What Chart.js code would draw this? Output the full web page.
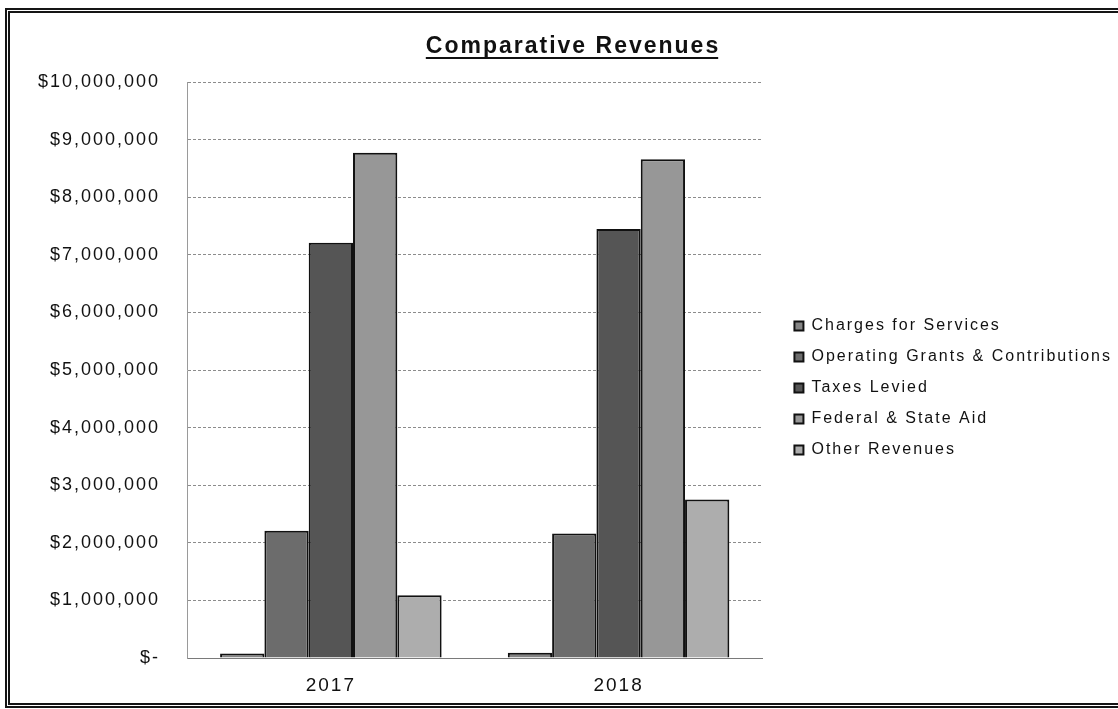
<!DOCTYPE html>
<html>
<head>
<meta charset="utf-8">
<script src="https://cdn.jsdelivr.net/npm/chart.js@4"></script>
<style>
  html, body { margin: 0; padding: 0; background: #fff; overflow: hidden; }
  body { width: 1118px; height: 709px; position: relative; }
  #frame {
    position: absolute; left: 5px; top: 8px; width: 1160px; height: 700px;
    box-sizing: border-box; border: 5px double #151515;
  }
  #chart { position: absolute; left: 12px; top: 12px; }
</style>
</head>
<body>
<div id="frame"></div>
<canvas id="chart" width="1120" height="690"></canvas>
<script>
// ---------------- data ----------------
const TITLE = "Comparative Revenues";

const YEARS = ["2017", "2018"];

const SERIES_NAMES = [
  "Charges for Services",
  "Operating Grants & Contributions",
  "Taxes Levied",
  "Federal & State Aid",
  "Other Revenues"
];

const CHARGES = [80000, 90000];
const OPERATING = [2210000, 2160000];
const TAXES = [7210000, 7450000];
const FEDERAL = [8770000, 8660000];
const OTHER = [1090000, 2750000];

const TICK_LABELS = [
  "$-", "$1,000,000", "$2,000,000", "$3,000,000", "$4,000,000", "$5,000,000",
  "$6,000,000", "$7,000,000", "$8,000,000", "$9,000,000", "$10,000,000"
];

// greys of the scanned print
const COLORS = ["#858585", "#6c6c6c", "#555555", "#979797", "#adadad"];

const FONT = "'Liberation Sans', Arial, sans-serif";
const SPACING = "2px";

// ---------------- plugins ----------------
// the print uses wide letter spacing, canvas state gets reset so set it each pass
const spacingPlugin = {
  id: "spacing",
  beforeUpdate(chart) { chart.ctx.letterSpacing = SPACING; },
  beforeLayout(chart) { chart.ctx.letterSpacing = SPACING; },
  beforeDraw(chart) { chart.ctx.letterSpacing = SPACING; }
};

// underlined title, centred over the whole (cut off) frame rather than the canvas
const titlePlugin = {
  id: "underlinedTitle",
  afterDraw(chart) {
    const ctx = chart.ctx;
    const cx = 560, cy = 35;
    ctx.save();
    ctx.letterSpacing = SPACING;
    ctx.font = "bold 23px " + FONT;
    ctx.fillStyle = "#111";
    ctx.textAlign = "center";
    ctx.textBaseline = "middle";
    ctx.fillText(TITLE, cx + 1, cy);
    const w = ctx.measureText(TITLE).width - 2;
    ctx.strokeStyle = "#111";
    ctx.lineWidth = 2;
    ctx.beginPath();
    ctx.moveTo(cx - w / 2, cy + 11);
    ctx.lineTo(cx + w / 2, cy + 11);
    ctx.stroke();
    ctx.restore();
  }
};

// ---------------- chart ----------------
const seriesData = [CHARGES, OPERATING, TAXES, FEDERAL, OTHER];
const datasets = SERIES_NAMES.map((name, i) => ({
  label: name,
  data: seriesData[i],
  backgroundColor: COLORS[i],
  borderColor: "#111",
  borderWidth: 2,
  barPercentage: 1.0,
  categoryPercentage: 0.77
}));

new Chart(document.getElementById("chart"), {
  type: "bar",
  data: { labels: YEARS, datasets },
  options: {
    responsive: false,
    animation: false,
    layout: { padding: { left: 26, right: 10, top: 70, bottom: 5 } },
    plugins: {
      title: { display: false },
      legend: {
        position: "right",
        align: "center",
        fullSize: false,
        maxWidth: 360,
        title: { display: true, text: " ", font: { size: 12, lineHeight: 1 }, padding: 12 },
        labels: {
          color: "#111",
          font: { family: FONT, size: 16 },
          boxWidth: 9,
          boxHeight: 9,
          padding: 15
        }
      },
      tooltip: { enabled: false }
    },
    scales: {
      x: {
        grid: { display: false, drawTicks: false },
        border: { display: true, color: "#7a7a7a", width: 1 },
        ticks: { color: "#111", font: { family: FONT, size: 19 }, padding: 16 },
        afterFit: (scale) => { scale.height = 39; }
      },
      y: {
        min: 0,
        max: 10000000,
        ticks: {
          stepSize: 1000000,
          color: "#111",
          font: { family: FONT, size: 18 },
          padding: 27,
          callback: (v, i) => TICK_LABELS[i]
        },
        grid: { color: "#8c8c8c", lineWidth: 1, drawTicks: false },
        border: { display: true, color: "#9a9a9a", width: 1, dash: [3, 2] },
        afterFit: (scale) => { scale.width = 149; }
      },
      y2: {
        position: "right",
        display: true,
        grid: { display: false, drawTicks: false },
        border: { display: false },
        ticks: { display: false },
        afterFit: (scale) => { scale.width = 17; }
      }
    }
  },
  plugins: [spacingPlugin, titlePlugin]
});
</script>
</body>
</html>
